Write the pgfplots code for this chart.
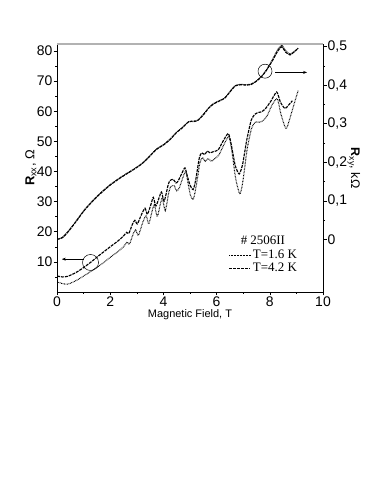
\documentclass[border=0pt]{standalone}
\usepackage{fontspec}
\setmainfont{Liberation Sans}
\newfontfamily\serif{Liberation Serif}
\usepackage{pgfplots}
\pgfplotsset{compat=1.18}
\usetikzlibrary{arrows.meta}
\pgfplotsset{
  myax/.style={
    at={(57bp,203bp)}, anchor=south west,
    scale only axis, width=266bp, height=248bp,
    xmin=0, xmax=10,
    tick align=outside,
    major tick length=3.5bp, minor tick length=2bp,
    every tick/.style={black, line width=0.6pt},
    axis line style={line width=0.7pt},
    ticklabel style={font=\fontsize{14}{16}\selectfont},
    yticklabel style={inner sep=1pt},
    xticklabel style={inner sep=1pt},
    /pgf/number format/assume math mode=true,
  },
  d42/.style={black, line width=1.15pt, dash pattern=on 3pt off 1pt, smooth, tension=0.4},
  d16/.style={black, line width=1.05pt, dash pattern=on 0.7pt off 0.8pt, smooth, tension=0.4},
}
\begin{document}
\begin{tikzpicture}
\path[use as bounding box] (0,0) rectangle (383bp,495bp);

\begin{axis}[myax,
  axis x line*=bottom, axis y line*=left,
  ymin=0, ymax=82.33,
  xtick={0,2,4,6,8,10}, minor xtick={1,3,5,7,9},
  ytick={10,20,30,40,50,60,70,80}, minor ytick={5,15,25,35,45,55,65,75},
  xlabel={Magnetic Field, T},
  xlabel style={font=\fontsize{11}{13}\selectfont, yshift=2bp},
  ylabel={\textbf{R}\textsubscript{xx}, Ω},
  ylabel style={font=\fontsize{13}{14}\selectfont},
  ylabel shift=-4pt,
  legend style={at={(axis cs:6.45,14.6)}, anchor=north west, draw=none, fill=none,
    font=\serif\fontsize{13}{13}\selectfont, row sep=-1pt, inner sep=0pt},
  legend cell align=left,
  legend image code/.code={\draw[#1] (0bp,0bp) -- (21bp,0bp);},
]
\addplot[d16] coordinates {
(0,3.4) (0.2,2.8) (0.4,2.6) (0.7,3.7) (1.0,5.3) (1.3,7.0) (1.62,8.9) (2.0,11.5)
(2.3,13.5) (2.5,15.0) (2.64,16.6) (2.72,15.8) (2.87,19.4) (2.96,20.6) (3.06,18.8)
(3.22,23.0) (3.35,25.4) (3.45,22.6) (3.58,27.0) (3.66,29.0) (3.77,25.0) (3.88,29.0)
(3.96,31.2) (4.07,27.0) (4.2,33.0) (4.28,35.0) (4.4,35.3) (4.5,33.6) (4.6,34.6)
(4.72,37.7) (4.84,40.0) (4.93,36.0) (5.02,32.0) (5.13,30.9) (5.25,36.0) (5.37,42.8)
(5.47,44.6) (5.57,43.4) (5.68,44.3) (5.8,43.4) (5.92,44.2) (6.08,45.4) (6.27,48.8)
(6.46,51.6) (6.57,47.0) (6.72,37.5) (6.88,32.5) (7.0,37.5) (7.15,47.5) (7.32,54.5)
(7.47,56.5) (7.6,56.3) (7.76,57.0) (7.9,58.5) (8.08,62.0) (8.28,64.2) (8.42,59.0)
(8.61,54.2) (8.75,57.5) (8.9,62.0) (9.07,67.0)
};
\addlegendentry{T=1.6 K}
\addplot[d42] coordinates {
(0,5.3) (0.2,5.0) (0.4,5.2) (0.7,6.4) (1.0,8.1) (1.3,10.1) (1.62,12.4) (2.0,15.0)
(2.3,17.0) (2.5,18.6) (2.62,19.8) (2.7,19.4) (2.84,22.6) (2.93,23.8) (3.02,22.6)
(3.18,25.8) (3.31,27.8) (3.4,25.8) (3.55,29.6) (3.62,31.4) (3.72,28.6) (3.85,31.6)
(3.93,33.2) (4.03,30.2) (4.18,35.6) (4.25,37.0) (4.37,37.4) (4.47,36.2) (4.55,36.8)
(4.7,39.5) (4.81,41.2) (4.9,38.5) (5.0,35.5) (5.12,34.0) (5.22,37.5) (5.35,44.5)
(5.44,46.2) (5.55,45.6) (5.65,46.8) (5.75,46.2) (5.88,46.6) (6.06,47.2) (6.25,50.2)
(6.44,52.6) (6.55,49.0) (6.7,42.0) (6.85,39.2) (6.98,42.5) (7.13,50.3) (7.3,57.0)
(7.44,59.0) (7.55,59.6) (7.69,59.8) (7.85,61.0) (8.05,63.5) (8.26,66.4) (8.4,63.0)
(8.57,60.9) (8.7,62.0) (8.85,63.5)
};
\addlegendentry{T=4.2 K}
\node[font=\serif\fontsize{13}{13}\selectfont, anchor=center] at (axis cs:7.74,17.3) {\# 2506II};
\draw[black, line width=0.5pt] (axis cs:7.82,73.3) circle[radius=7bp];
\draw[black, line width=0.5pt] (axis cs:1.26,9.8) circle[radius=8bp];
\draw[black, line width=0.6pt, -{Stealth[length=4bp,width=3bp]}] (axis cs:8.2,72.9) -- (axis cs:9.4,72.9);
\draw[black, line width=0.6pt, -{Stealth[length=4bp,width=3bp]}] (axis cs:1.0,10.9) -- (axis cs:0.18,10.9);
\draw[gray!60, line width=1.3pt] (rel axis cs:0,1) -- (rel axis cs:1,1);
\end{axis}

\begin{axis}[myax,
  axis y line*=right, axis x line=none,
  ymin=-0.1365, ymax=0.507,
  ytick={0,0.1,0.2,0.3,0.4,0.5},
  yticklabels={0,{0,1},{0,2},{0,3},{0,4},{0,5}},
  minor ytick={0.05,0.15,0.25,0.35,0.45},
  ylabel={\textbf{R}\textsubscript{xy}, kΩ},
  ylabel style={font=\fontsize{12.5}{14}\selectfont, rotate=180},
  ylabel shift=-4pt,
]
\addplot[d16] coordinates {
(0,0.0) (0.2,0.0052) (0.4,0.0193) (0.7,0.0458) (1.0,0.0740) (1.3,0.0974) (1.62,0.1193)
(2.0,0.1420) (2.4,0.1615) (2.87,0.1818) (3.2,0.1975) (3.5,0.2178) (3.75,0.2350)
(4.0,0.2459) (4.25,0.2600) (4.5,0.2787) (4.7,0.2897) (4.95,0.3053) (5.15,0.3069)
(5.3,0.3100) (5.5,0.3241) (5.7,0.3413) (5.88,0.3522) (6.1,0.3600) (6.3,0.3663)
(6.5,0.3835) (6.7,0.3991) (6.9,0.4022) (7.1,0.4015) (7.3,0.4030) (7.5,0.4116)
(7.7,0.4241) (7.88,0.4405) (8.1,0.4668) (8.3,0.4928) (8.45,0.5040) (8.6,0.4896)
(8.76,0.4806) (8.9,0.4866) (9.07,0.4968)
};
\addplot[d42] coordinates {
(0,0.0) (0.2,0.0042) (0.4,0.0183) (0.7,0.0448) (1.0,0.0730) (1.3,0.0964) (1.62,0.1183)
(2.0,0.1410) (2.4,0.1605) (2.87,0.1808) (3.2,0.1965) (3.5,0.2168) (3.75,0.2340)
(4.0,0.2449) (4.25,0.2590) (4.5,0.2777) (4.7,0.2887) (4.95,0.3053) (5.15,0.3059)
(5.3,0.3090) (5.5,0.3231) (5.7,0.3403) (5.88,0.3512) (6.1,0.3590) (6.3,0.3663)
(6.5,0.3825) (6.7,0.3981) (6.9,0.4012) (7.1,0.4005) (7.3,0.4020) (7.5,0.4106)
(7.7,0.4231) (7.88,0.4395) (8.1,0.4638) (8.3,0.4888) (8.45,0.4997) (8.6,0.4856)
(8.76,0.4786) (8.9,0.4856) (9.07,0.4958)
};
\end{axis}
\end{tikzpicture}
\end{document}
